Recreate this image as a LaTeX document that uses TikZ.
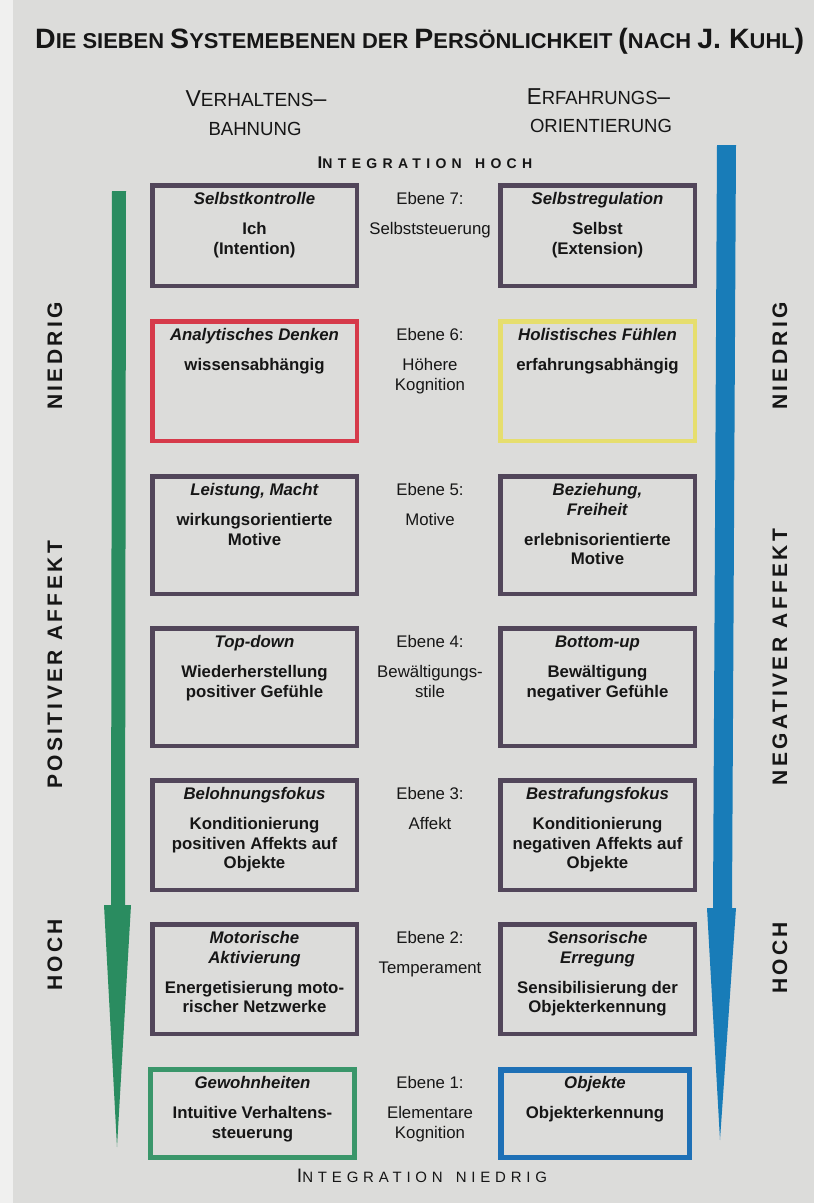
\documentclass[tikz,border=0pt]{standalone}
\usepackage{fontspec}
\usepackage{graphicx}
\setmainfont{Liberation Sans}
\usetikzlibrary{calc}
\definecolor{pagebg}{RGB}{220,220,218}
\definecolor{pageedge}{RGB}{240,240,239}
\definecolor{ink}{RGB}{22,22,22}
\definecolor{boxpurple}{RGB}{82,70,90}
\definecolor{boxred}{RGB}{214,58,74}
\definecolor{boxyellow}{RGB}{230,222,110}
\definecolor{boxgreen}{RGB}{58,150,106}
\definecolor{boxblue}{RGB}{30,112,182}
\definecolor{arrgreen}{RGB}{42,140,96}
\definecolor{arrblue}{RGB}{24,124,184}
\newcommand{\fl}{\rule{0pt}{13pt}}
\newcommand{\Tb}[1]{{\fontsize{28pt}{30pt}\selectfont #1}}
\newcommand{\Ts}[1]{{\fontsize{21.5pt}{24pt}\selectfont #1}}
\newcommand{\Hb}[1]{{\fontsize{23pt}{25pt}\selectfont #1}}
\newcommand{\Hs}[1]{{\fontsize{19pt}{21pt}\selectfont #1}}
\newcommand{\Ib}[1]{{\fontsize{17pt}{19pt}\selectfont\addfontfeature{LetterSpace=32}#1}}
\newcommand{\Is}[1]{{\fontsize{14pt}{16pt}\selectfont\addfontfeature{LetterSpace=38}#1}}
\newcommand{\Jb}[1]{{\fontsize{19.5pt}{21pt}\selectfont\addfontfeature{LetterSpace=26}#1}}
\newcommand{\Js}[1]{{\fontsize{15pt}{17pt}\selectfont\addfontfeature{LetterSpace=32}#1}}
\newcommand{\sidefont}{\fontsize{21pt}{24pt}\selectfont\bfseries\addfontfeature{LetterSpace=16}}
\begin{document}
\begin{tikzpicture}[x=1pt,y=-1pt,
  lvl/.style={draw=boxpurple, line width=4.5pt, inner sep=0pt},
  lw/.style={minimum width=204.5pt},
  rw/.style={minimum width=194.5pt},
  btxt/.style={anchor=north, align=center, inner sep=0pt, text=ink, font=\fontsize{16.8pt}{19.5pt}\selectfont\bfseries},
  mtxt/.style={anchor=north, align=center, inner sep=0pt, text=ink, font=\fontsize{16.8pt}{19.5pt}\selectfont},
  side/.style={rotate=90, inner sep=0pt, text=ink, font=\sidefont},
  head/.style={anchor=base, inner sep=0pt, text=ink}]
\useasboundingbox (0,0) rectangle (814,1203);
\fill[pagebg] (0,0) rectangle (814,1203);
\fill[pageedge] (0,0) rectangle (13,1203);

% arrows
\fill[arrgreen] (112,191) -- (126,191) -- (125,905) -- (131,905) -- (117,1147) -- (104,905) -- (111,905) -- cycle;
\fill[arrblue] (717,145) -- (736,145) -- (732,908) -- (736,908) -- (720,1140) -- (707,908) -- (713,908) -- cycle;

% headings
\node[head, anchor=base west] (title) at (35,48) {\resizebox{769pt}{\height}{\bfseries\Tb{D}\Ts{IE SIEBEN }\Tb{S}\Ts{YSTEMEBENEN DER }\Tb{P}\Ts{ERSÖNLICHKEIT }\Tb{(}\Ts{NACH }\Tb{J. K}\Ts{UHL}\Tb{)}}};
\node[head] (vh1) at (256,106) {\resizebox{141pt}{\height}{\Hb{V}\Hs{ERHALTENS}\Hb{–}}};
\node[head] (vh2) at (255,135) {\resizebox{93pt}{\height}{\Hs{BAHNUNG}}};
\node[head] (eo1) at (598.5,104) {\resizebox{143pt}{\height}{\Hb{E}\Hs{RFAHRUNGS}\Hb{–}}};
\node[head] (eo2) at (601,132) {\resizebox{142pt}{\height}{\Hs{ORIENTIERUNG}}};
\node[head] (ihoch) at (425,168) {\bfseries\Ib{I}\Is{NTEGRATION\hspace{4pt} HOCH}};
\node[head] (iniedrig) at (422,1182) {\Jb{I}\Js{NTEGRATION\hspace{4pt} NIEDRIG}};

% side labels
\node[side] (sl1) at (55,356) {NIEDRIG};
\node[side] (sl2) at (55,665) {POSITIVER AFFEKT};
\node[side] (sl3) at (55,955) {HOCH};
\node[side] (sr1) at (780,356) {NIEDRIG};
\node[side] (sr2) at (780,657) {NEGATIVER AFFEKT};
\node[side] (sr3) at (780,958) {HOCH};

% level 7
\node[lvl, lw, minimum height=100.5pt] (L7) at (254.5,235.5) {};
\node[lvl, rw, minimum height=100.5pt] (R7) at (597.5,235.5) {};
\node[btxt] (tL7) at (254.5,191.5) {\fl\textit{Selbstkontrolle}\\[10.5pt] Ich\\ (Intention)};
\node[btxt] (tR7) at (597.5,191.5) {\fl\textit{Selbstregulation}\\[10.5pt] Selbst\\ (Extension)};
\node[mtxt] (tM7) at (430,191.5) {\fl Ebene 7:\\[10.5pt] Selbststeuerung};

% level 6
\node[lvl, lw, draw=boxred, minimum height=119.5pt] (L6) at (254.5,381) {};
\node[lvl, rw, draw=boxyellow, minimum height=119.5pt] (R6) at (597.5,381) {};
\node[btxt] (tL6) at (254.5,327.5) {\fl\textit{Analytisches Denken}\\[10.5pt] wissensabhängig};
\node[btxt] (tR6) at (597.5,327.5) {\fl\textit{Holistisches Fühlen}\\[10.5pt] erfahrungsabhängig};
\node[mtxt] (tM6) at (430,327.5) {\fl Ebene 6:\\[10.5pt] Höhere\\ Kognition};

% level 5
\node[lvl, lw, minimum height=117.5pt] (L5) at (254.5,535) {};
\node[lvl, rw, minimum height=117.5pt] (R5) at (597.5,535) {};
\node[btxt] (tL5) at (254.5,482.5) {\fl\textit{Leistung, Macht}\\[10.5pt] wirkungsorientierte\\ Motive};
\node[btxt] (tR5) at (597.5,482.5) {\fl\textit{Beziehung,}\\ \textit{Freiheit}\\[10.5pt] erlebnisorientierte\\ Motive};
\node[mtxt] (tM5) at (430,482.5) {\fl Ebene 5:\\[10.5pt] Motive};

% level 4
\node[lvl, lw, minimum height=117.5pt] (L4) at (254.5,687) {};
\node[lvl, rw, minimum height=117.5pt] (R4) at (597.5,687) {};
\node[btxt] (tL4) at (254.5,634.5) {\fl\textit{Top-down}\\[10.5pt] Wiederherstellung\\ positiver Gefühle};
\node[btxt] (tR4) at (597.5,634.5) {\fl\textit{Bottom-up}\\[10.5pt] Bewältigung\\ negativer Gefühle};
\node[mtxt] (tM4) at (430,634.5) {\fl Ebene 4:\\[10.5pt] Bewältigungs-\\ stile};

% level 3
\node[lvl, lw, minimum height=109.5pt] (L3) at (254.5,835) {};
\node[lvl, rw, minimum height=109.5pt] (R3) at (597.5,835) {};
\node[btxt] (tL3) at (254.5,786.5) {\fl\textit{Belohnungsfokus}\\[10.5pt] Konditionierung\\ positiven Affekts auf\\ Objekte};
\node[btxt] (tR3) at (597.5,786.5) {\fl\textit{Bestrafungsfokus}\\[10.5pt] Konditionierung\\ negativen Affekts auf\\ Objekte};
\node[mtxt] (tM3) at (430,786.5) {\fl Ebene 3:\\[10.5pt] Affekt};

% level 2
\node[lvl, lw, minimum height=109.5pt] (L2) at (254.5,979) {};
\node[lvl, rw, minimum height=109.5pt] (R2) at (597.5,979) {};
\node[btxt] (tL2) at (254.5,930.5) {\fl\textit{Motorische}\\ \textit{Aktivierung}\\[10.5pt] Energetisierung moto-\\ rischer Netzwerke};
\node[btxt] (tR2) at (597.5,930.5) {\fl\textit{Sensorische}\\ \textit{Erregung}\\[10.5pt] Sensibilisierung der\\ Objekterkennung};
\node[mtxt] (tM2) at (430,930.5) {\fl Ebene 2:\\[10.5pt] Temperament};

% level 1
\node[lvl, draw=boxgreen, line width=5pt, minimum width=204pt, minimum height=88pt] (L1) at (252.5,1113.5) {};
\node[lvl, draw=boxblue, line width=5.5pt, minimum width=188.5pt, minimum height=87.5pt] (R1) at (595,1113.5) {};
\node[btxt] (tL1) at (252.5,1075.5) {\fl\textit{Gewohnheiten}\\[10.5pt] Intuitive Verhaltens-\\ steuerung};
\node[btxt] (tR1) at (595,1075.5) {\fl\textit{Objekte}\\[10.5pt] Objekterkennung};
\node[mtxt] (tM1) at (430,1075.5) {\fl Ebene 1:\\[10.5pt] Elementare\\ Kognition};
\end{tikzpicture}
\end{document}
